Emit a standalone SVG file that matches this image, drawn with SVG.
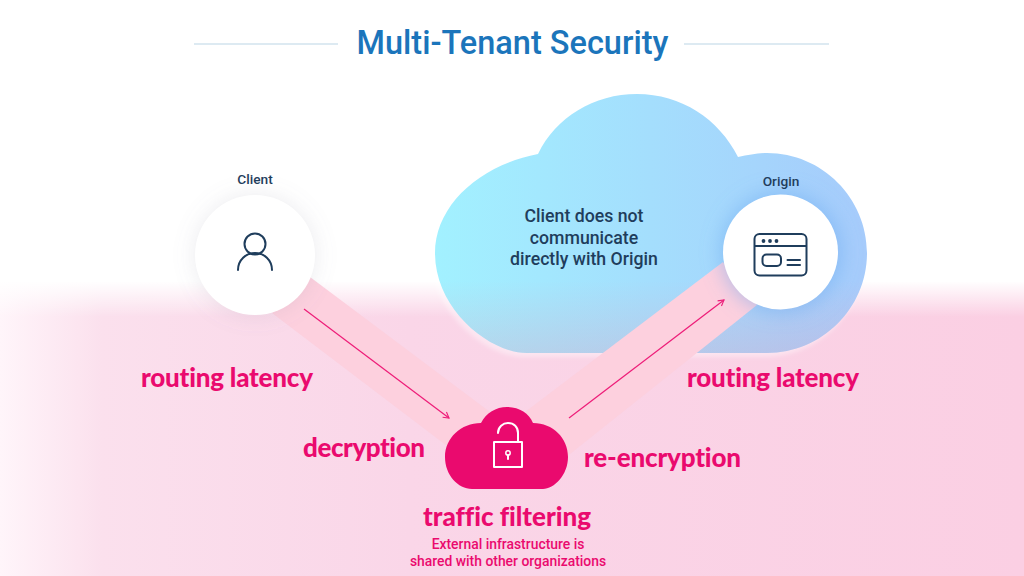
<svg xmlns="http://www.w3.org/2000/svg" width="1024" height="576" viewBox="0 0 1024 576">
<style>
.sm{font-family:Roboto,"Liberation Sans",sans-serif;font-weight:500;fill:#1f3d5c;text-anchor:middle}
.pk{font-family:"Lato","Liberation Sans",sans-serif;font-weight:900;font-size:26px;fill:#ea0a6e;text-anchor:middle;font-variant-ligatures:none}
.pks{font-family:Roboto,"Liberation Sans",sans-serif;font-weight:500;font-size:13.9px;fill:#ea0a6e;text-anchor:middle}
.ic{fill:none;stroke:#1f3d5c;stroke-width:2;stroke-linecap:round;stroke-linejoin:round}
.lk{fill:none;stroke:#fff;stroke-width:2;stroke-linecap:round;stroke-linejoin:round}
.ar{fill:none;stroke:#ee1c78;stroke-width:1.2}
.beam{fill:#fdd0de}
</style>
<defs>
<linearGradient id="bgh" x1="0" x2="1" y1="0" y2="0"><stop offset="0" stop-color="#fff5fa"/><stop offset=".1" stop-color="#fbe0ed"/><stop offset=".4" stop-color="#fad6e8"/><stop offset="1" stop-color="#fbcfe3"/></linearGradient>
<linearGradient id="bgv" x1="0" x2="0" y1="0" y2="1"><stop offset="0" stop-color="#fff" stop-opacity="1"/><stop offset="1" stop-color="#fff" stop-opacity="0"/></linearGradient>
<linearGradient id="cl" gradientUnits="userSpaceOnUse" x1="435" x2="867" y1="0" y2="0"><stop offset="0" stop-color="#a2f1ff"/><stop offset="1" stop-color="#a6cbfb"/></linearGradient>
<linearGradient id="tint" x1="0" x2="0" y1="0" y2="1"><stop offset="0" stop-color="#e0a0c0" stop-opacity="0"/><stop offset=".72" stop-color="#e0a0c0" stop-opacity="0"/><stop offset="1" stop-color="#e0a0c0" stop-opacity=".3"/></linearGradient>
<filter id="sh" x="-50%" y="-50%" width="200%" height="200%"><feGaussianBlur stdDeviation="10"/></filter>
<filter id="hl" x="-10%" y="-10%" width="120%" height="120%"><feGaussianBlur stdDeviation="2"/></filter>
<marker id="ah" viewBox="0 0 10 10" refX="9" refY="5" markerWidth="8" markerHeight="8" markerUnits="userSpaceOnUse" orient="auto"><path d="M2 1L9 5L2 9" fill="none" stroke="#ee1c78" stroke-width="1.400"/></marker>
<path id="cloudp" d="M538 154C556 117 594 94 637 94C681 94 719 119 738 157C749 155 757 153 767 153C822 153 867 198 867 253C867 308 822 353 767 353L527 353C490 353 435 310 435 253C435 205 480 165 538 154Z"/>
</defs>
<g id="background">
<rect width="1024" height="576" fill="url(#bgh)"/>
<rect width="1024" height="282" fill="#fff"/>
<rect y="281" width="1024" height="36" fill="url(#bgv)"/>
</g>
<g id="title">
<line x1="194" y1="44" x2="338" y2="44" stroke="#bcd6e6" stroke-width="1.2"/>
<line x1="684" y1="44" x2="829" y2="44" stroke="#bcd6e6" stroke-width="1.2"/>
<text x="512.5" y="54" font-family="Roboto,'Liberation Sans',sans-serif" font-weight="500" font-size="32.5" fill="#1b75bb" text-anchor="middle">Multi-Tenant Security</text>
</g>
<g id="origin-cloud">
<use href="#cloudp" fill="#fff" fill-opacity=".4" transform="translate(-3 4)" filter="url(#hl)"/>
<use href="#cloudp" fill="url(#cl)"/>
<use href="#cloudp" fill="url(#tint)"/>
<text class="sm" font-size="17.700" x="584" y="222">Client does not</text>
<text class="sm" font-size="17.700" x="584" y="244">communicate</text>
<text class="sm" font-size="17.700" x="584" y="265">directly with Origin</text>
</g>
<g id="connectors">
<polygon class="beam" points="310,277 490,412 455,452 272,313"/>
<polygon class="beam" points="723,262 525,412 555,466 757,305"/>
<line class="ar" x1="304" y1="309" x2="449" y2="418" marker-end="url(#ah)"/>
<line class="ar" x1="569" y1="418" x2="724" y2="300" marker-end="url(#ah)"/>
</g>
<g id="client">
<circle cx="255" cy="255" r="62" fill="#8a8a9a" fill-opacity=".14" filter="url(#sh)"/>
<circle cx="255" cy="255" r="60" fill="#fff"/>
<text class="sm" font-size="13.700" x="255" y="184">Client</text>
<circle class="ic" cx="255" cy="244" r="10.5"/>
<path class="ic" d="M238 270C238 260 246 253 255 253C264 253 272 260 272 270"/>
</g>
<g id="origin">
<circle cx="781" cy="252" r="60" fill="#6aa8f0" fill-opacity=".5" filter="url(#sh)"/>
<circle cx="780.5" cy="252" r="57.5" fill="#fff"/>
<text class="sm" font-size="13.700" x="781" y="186">Origin</text>
<rect class="ic" x="754.5" y="234" width="52" height="41.500" rx="5"/>
<line class="ic" x1="755" y1="246" x2="806" y2="246"/>
<circle cx="763.500" cy="241" r="1.900" fill="#1f3d5c"/>
<circle cx="770" cy="241" r="1.900" fill="#1f3d5c"/>
<circle cx="776.500" cy="241" r="1.900" fill="#1f3d5c"/>
<rect class="ic" x="762.500" y="254.500" width="18.500" height="11.500" rx="4"/>
<line class="ic" x1="787.500" y1="260" x2="800" y2="260"/>
<line class="ic" x1="787.500" y1="265" x2="800" y2="265"/>
</g>
<g id="filter-cloud">
<path d="M481 423C486 413 496 407 507 407C519 407 529 413 533 423C553 423 568 438 568 457C568 475 554 489 543 489L472 489C458 489 445 475 445 457C445 438 461 423 481 423Z" fill="#ea0a6e"/>
<rect class="lk" x="494" y="442" width="28" height="25"/>
<path class="lk" d="M498 433C498 427 503 423 508 423C514 423 518 427 518 433L518 442"/>
<circle cx="508" cy="453" r="2.200" fill="none" stroke="#fff" stroke-width="1.500"/>
<line class="lk" x1="508" y1="455" x2="508" y2="459" stroke-width="1.500"/>
</g>
<g id="labels">
<text class="pk" x="227" y="387" textLength="172">routing latency</text>
<text class="pk" x="773" y="387" textLength="172">routing latency</text>
<text class="pk" x="364" y="457" textLength="122">decryption</text>
<text class="pk" x="662.500" y="467" textLength="157">re-encryption</text>
<text class="pk" x="507" y="526" textLength="168">traffic filtering</text>
<text class="pks" x="508" y="549">External infrastructure is</text>
<text class="pks" x="508" y="566">shared with other organizations</text>
</g>
</svg>
